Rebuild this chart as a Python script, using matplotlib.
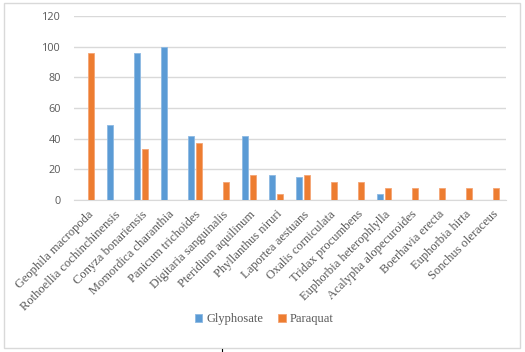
import numpy as np
import matplotlib
matplotlib.use("Agg")
import matplotlib.pyplot as plt
from matplotlib.patches import Rectangle

species = [
    "Geophila macropoda", "Rothoellia cochinchinensis", "Conyza bonariensis",
    "Momordica charanthia", "Panicum trichoides", "Digitaria sanguinalis",
    "Pteridium aquilinum", "Phyllanthus niruri", "Laportea aestuans",
    "Oxalis corniculata", "Tridax procumbens", "Euphorbia heterophlylla",
    "Acalypha alopecuroides", "Boerhavia erecta", "Euphorbia hirta",
    "Sonchus oleraceus",
]
glyphosate = [0, 49, 96, 100, 42, 0, 42, 16, 15, 0, 0, 4, 0, 0, 0, 0]
paraquat = [96, 0, 33, 0, 37, 12, 16, 4, 16, 12, 12, 8, 8, 8, 8, 8]
yticks = [0, 20, 40, 60, 80, 100, 120]

BLUE = "#5B9BD5"
ORANGE = "#ED7D31"
GREY = "#595959"

W, H = 525, 352
fig = plt.figure(figsize=(W / 100, H / 100), dpi=100)
ax = fig.add_axes([73.5 / W, 1 - 200 / H, 432 / W, 184 / H])

x = np.arange(len(species))
bw = 0.22
off = 0.15
ax.bar(x - off, glyphosate, bw, color=BLUE, edgecolor="#8DB9E3", linewidth=0.6,
       label="Glyphosate", zorder=3)
ax.bar(x + off, paraquat, bw, color=ORANGE, edgecolor="#F4A575", linewidth=0.6,
       label="Paraquat", zorder=3)

ax.set_xlim(-0.5, len(species) - 0.5)
ax.set_ylim(0, 120)
ax.set_yticks(yticks)
ax.set_yticklabels([str(v) for v in yticks], fontfamily="Open Sans",
                   fontsize=7.8, color=GREY)
ax.yaxis.grid(True, color="#D9D9D9", linewidth=1, zorder=0)
ax.tick_params(axis="y", length=0, pad=9)
ax.tick_params(axis="x", length=0, pad=6)
for s in ["top", "right", "left"]:
    ax.spines[s].set_visible(False)
ax.spines["bottom"].set_color("#D9D9D9")

ax.set_xticks(x)
ax.set_xticklabels(species, rotation=45, ha="right", rotation_mode="anchor",
                   fontfamily="Liberation Serif", fontsize=9, color=GREY)

leg = fig.legend(loc="center", bbox_to_anchor=(264 / W, 1 - 319 / H), ncol=2,
                 frameon=False, handlelength=0.6, handleheight=0.6,
                 handletextpad=0.3, columnspacing=1.2,
                 prop={"family": "Liberation Serif", "size": 9})
for t in leg.get_texts():
    t.set_color(GREY)

# chart area border
fig.patches.append(Rectangle((4 / W, 1 - 348 / H), 516 / W, 345 / H,
                             transform=fig.transFigure, fill=False,
                             edgecolor="#D9D9D9", linewidth=1))
# small tick below the border
fig.add_artist(plt.Line2D([222 / W, 222 / W], [0, 3 / H],
                          transform=fig.transFigure, color="black", lw=0.8))

fig.savefig("out.png", dpi=100)
